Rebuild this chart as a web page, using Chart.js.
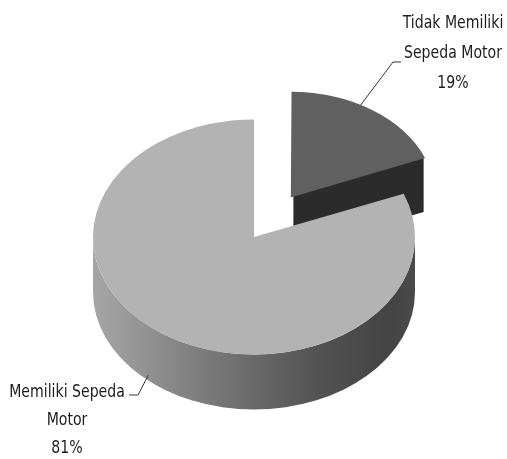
<!DOCTYPE html>
<html>
<head>
<meta charset="utf-8">
<script src="https://cdn.jsdelivr.net/npm/chart.js@4/dist/chart.umd.min.js"></script>
<style>
  html, body { margin: 0; padding: 0; background: #fff; }
  canvas { display: block; }
</style>
</head>
<body>
<canvas id="pieChart" width="507" height="459"></canvas>
<script>
// Kepemilikan sepeda motor (persen)
const categories = ['Tidak Memiliki Sepeda Motor', 'Memiliki Sepeda Motor'];
const values = [19, 81];
const labelLines = [
  ['Tidak Memiliki', 'Sepeda Motor'],
  ['Memiliki Sepeda', 'Motor']
];

const topColors = ['#606060', '#b3b3b3'];
const wallColors = ['#2b2b2b', null]; // null -> gradient

// fake 3D: squash the pie vertically and extrude walls below it
const TILT = 0.73;       // vertical squash of top face
const CENTER_Y = 237;    // screen y of the pie center
const DEPTH = 55;        // wall height on screen
const FAR_SHRINK = [0.87, 1]; // pulled-out slice sits further back, looks smaller

function arcCenter(arc) {
  const p = arc.getProps(['x', 'y', 'startAngle', 'endAngle', 'outerRadius', 'circumference'], true);
  const off = (arc.options.offset || 0) / 4;
  const mid = (p.startAngle + p.endAngle) / 2;
  const fix = 1 - Math.sin(Math.min(Math.PI, p.circumference || 0));
  const t = off * (1 + fix);
  return Object.assign(p, { cx: p.x + Math.cos(mid) * t, cy: p.y + Math.sin(mid) * t });
}

// circle space -> screen
function toScreen(chart, x, y) {
  const y0 = chart.getDatasetMeta(0).data[0].y;
  return { x: x, y: CENTER_Y + (y - y0) * TILT };
}

const pie3d = {
  id: 'pie3d',
  afterDatasetUpdate(chart, args) {
    args.meta.data.forEach((arc, i) => { arc.outerRadius *= FAR_SHRINK[i]; });
  },
  beforeDatasetsDraw(chart) {
    const ctx = chart.ctx;
    const arcs = chart.getDatasetMeta(0).data;
    const y0 = arcs[0].y;
    const D = DEPTH / TILT;
    ctx.save();
    ctx.translate(0, CENTER_Y);
    ctx.scale(1, TILT);
    ctx.translate(0, -y0);

    arcs.forEach((arc, i) => {
      const a = arcCenter(arc);
      const r = a.outerRadius;
      let fill = wallColors[i];
      if (!fill) {
        const g = ctx.createLinearGradient(a.cx - r, 0, a.cx + r, 0);
        g.addColorStop(0, '#a6a6a6');
        g.addColorStop(0.33, '#7d7d7d');
        g.addColorStop(0.7, '#525252');
        g.addColorStop(0.92, '#444444');
        g.addColorStop(1, '#4a4a4a');
        fill = g;
      }
      ctx.fillStyle = fill;

      // radial cut faces that turn towards the viewer
      [[a.startAngle, Math.cos(a.startAngle) < -0.01], [a.endAngle, Math.cos(a.endAngle) > 0.01]]
        .forEach(([ang, visible]) => {
          if (!visible) return;
          const px = a.cx + Math.cos(ang) * r, py = a.cy + Math.sin(ang) * r;
          ctx.beginPath();
          ctx.moveTo(a.cx, a.cy);
          ctx.lineTo(px, py);
          ctx.lineTo(px, py + D);
          ctx.lineTo(a.cx, a.cy + D);
          ctx.closePath();
          ctx.fill();
        });

      // outer rim, front half only
      const s = Math.max(a.startAngle, 0), e = Math.min(a.endAngle, Math.PI);
      if (s < e) {
        ctx.beginPath();
        ctx.arc(a.cx, a.cy, r, s, e);
        ctx.arc(a.cx, a.cy + D, r, e, s, true);
        ctx.closePath();
        ctx.fill();
      }
    });
  },
  afterDatasetsDraw(chart) {
    chart.ctx.restore();
  },
  afterDraw(chart) {
    const ctx = chart.ctx;
    const arcs = chart.getDatasetMeta(0).data;
    const a0 = arcCenter(arcs[0]);
    const a1 = arcCenter(arcs[1]);

    // anchor on the top edge of the small slice
    const ang0 = a0.startAngle + 0.42 * (a0.endAngle - a0.startAngle);
    const p0 = toScreen(chart, a0.cx + Math.cos(ang0) * a0.outerRadius, a0.cy + Math.sin(ang0) * a0.outerRadius);
    // anchor low on the rim of the big slice
    const ang1 = 131 * Math.PI / 180;
    const p1 = toScreen(chart, a1.cx + Math.cos(ang1) * a1.outerRadius, a1.cy + Math.sin(ang1) * a1.outerRadius);
    p1.y += DEPTH * 0.9;

    ctx.save();
    ctx.strokeStyle = '#333';
    ctx.lineWidth = 1;
    ctx.beginPath();
    ctx.moveTo(p0.x, p0.y);
    ctx.lineTo(393, 62);
    ctx.lineTo(401, 62);
    ctx.moveTo(p1.x, p1.y);
    ctx.lineTo(138, 395);
    ctx.lineTo(129, 395);
    ctx.stroke();

    ctx.fillStyle = '#1c1c1c';
    ctx.font = "18px 'Liberation Sans Narrow', 'DejaVu Sans Condensed', sans-serif";
    ctx.textAlign = 'center';
    ctx.textBaseline = 'middle';
    const spots = [{ x: 453, y: 23, gap: 30 }, { x: 67, y: 392, gap: 28 }];
    spots.forEach((sp, i) => {
      const lines = labelLines[i].concat(values[i] + '%');
      lines.forEach((t, k) => {
        ctx.save();
        ctx.translate(sp.x, sp.y + k * sp.gap);
        ctx.scale(0.87, 1);
        ctx.fillText(t, 0, 0);
        ctx.restore();
      });
    });
    ctx.restore();
  }
};

new Chart(document.getElementById('pieChart'), {
  type: 'pie',
  data: {
    labels: categories,
    datasets: [{
      data: values,
      backgroundColor: topColors,
      borderWidth: 0,
      offset: [262, 0],
      radius: 161,
      clip: false
    }]
  },
  options: {
    responsive: false,
    animation: false,
    layout: { padding: { left: 1, right: 0, top: 0, bottom: 0 } },
    plugins: {
      legend: { display: false },
      tooltip: { enabled: false }
    }
  },
  plugins: [pie3d]
});
</script>
</body>
</html>
